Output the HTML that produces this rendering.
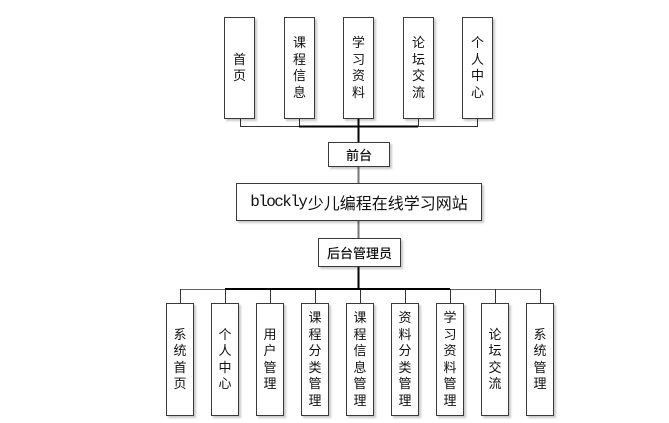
<!DOCTYPE html>
<html><head><meta charset="utf-8">
<style>
html,body{margin:0;padding:0;background:#fff;}
body{width:669px;height:423px;position:relative;overflow:hidden;font-family:"Liberation Sans","Noto Sans CJK SC",sans-serif;}
.b{position:absolute;box-sizing:border-box;border:1px solid #3a3a3a;background:#fff;box-shadow:2px 2px 2px rgba(0,0,0,0.22);display:flex;align-items:center;justify-content:center;text-align:center;color:#111;}
.v{font-size:13px;line-height:16.5px;}
.t{top:17px;height:102px;width:31px;}
.bt{top:303px;height:113px;width:28px;}
svg{position:absolute;left:0;top:0;}
</style></head><body>
<svg width="669" height="423">
  <g stroke="#333" stroke-width="1" fill="none">
    <line x1="240.5" y1="119" x2="240.5" y2="126.5"/>
    <line x1="299.5" y1="119" x2="299.5" y2="126.5"/>
    <line x1="418.5" y1="119" x2="418.5" y2="126.5"/>
    <line x1="477.5" y1="119" x2="477.5" y2="126.5"/>
    <line x1="240" y1="126.5" x2="478" y2="126.5"/>
  </g>
  <line x1="299" y1="126.5" x2="418" y2="126.5" stroke="#000" stroke-width="2"/>
  <line x1="358.5" y1="119" x2="358.5" y2="142" stroke="#000" stroke-width="2"/>
  <line x1="358.5" y1="166" x2="358.5" y2="183" stroke="#777" stroke-width="2"/>
  <line x1="358.5" y1="221" x2="358.5" y2="238" stroke="#777" stroke-width="2"/>
  <line x1="358.5" y1="267" x2="358.5" y2="289" stroke="#000" stroke-width="2"/>
  <g stroke="#333" stroke-width="1" fill="none">
    <line x1="180" y1="289.5" x2="540" y2="289.5" stroke="#666"/>
    <line x1="180.5" y1="289" x2="180.5" y2="303"/>
    <line x1="225.5" y1="289" x2="225.5" y2="303"/>
    <line x1="270.5" y1="289" x2="270.5" y2="303"/>
    <line x1="315.5" y1="289" x2="315.5" y2="303"/>
    <line x1="360.5" y1="289" x2="360.5" y2="303"/>
    <line x1="405.5" y1="289" x2="405.5" y2="303"/>
    <line x1="450.5" y1="289" x2="450.5" y2="303"/>
    <line x1="495.5" y1="289" x2="495.5" y2="303"/>
    <line x1="540.5" y1="289" x2="540.5" y2="303"/>
  </g>
  <line x1="225" y1="289" x2="450" y2="289" stroke="#000" stroke-width="2"/>
</svg>

<div class="b v t" style="left:224px;">首<br>页</div>
<div class="b v t" style="left:284px;">课<br>程<br>信<br>息</div>
<div class="b v t" style="left:343px;">学<br>习<br>资<br>料</div>
<div class="b v t" style="left:403px;">论<br>坛<br>交<br>流</div>
<div class="b v t" style="left:462px;">个<br>人<br>中<br>心</div>

<div class="b" style="left:328px;top:142px;width:62px;height:25px;font-size:13px;font-weight:500;">前台</div>
<div class="b" style="left:236px;top:183px;width:246px;height:38px;font-size:16px;"><span style="font-family:'Liberation Mono',monospace;letter-spacing:-1.6px;margin-right:1.6px;">blockly</span><span style="font-family:'Noto Sans CJK SC',sans-serif;">少儿编程在线学习网站</span></div>
<div class="b" style="left:318px;top:238px;width:83px;height:29px;font-size:13px;font-weight:500;">后台管理员</div>

<div class="b v bt" style="left:166px;">系<br>统<br>首<br>页</div>
<div class="b v bt" style="left:211px;">个<br>人<br>中<br>心</div>
<div class="b v bt" style="left:256px;">用<br>户<br>管<br>理</div>
<div class="b v bt" style="left:301px;">课<br>程<br>分<br>类<br>管<br>理</div>
<div class="b v bt" style="left:346px;">课<br>程<br>信<br>息<br>管<br>理</div>
<div class="b v bt" style="left:391px;">资<br>料<br>分<br>类<br>管<br>理</div>
<div class="b v bt" style="left:436px;">学<br>习<br>资<br>料<br>管<br>理</div>
<div class="b v bt" style="left:481px;">论<br>坛<br>交<br>流</div>
<div class="b v bt" style="left:526px;">系<br>统<br>管<br>理</div>
</body></html>
